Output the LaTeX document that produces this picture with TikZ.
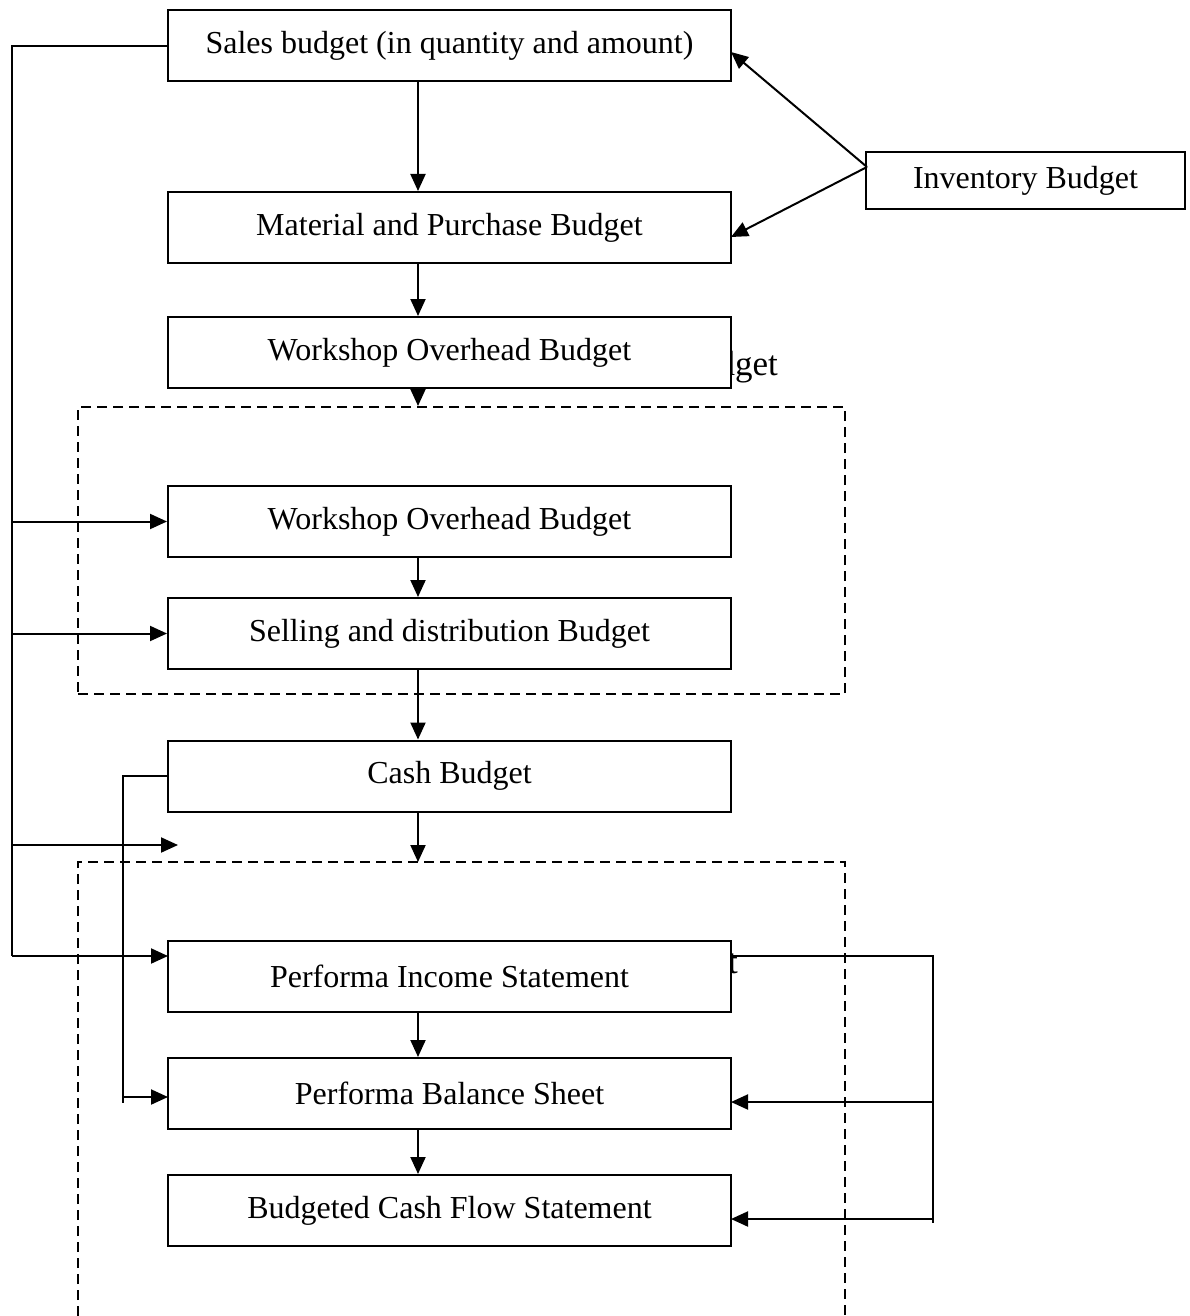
\documentclass[tikz,border=0pt]{standalone}
\usepackage{fontspec}
\setmainfont{Liberation Serif}
\usetikzlibrary{arrows.meta}
\tikzset{
  budget/.style={draw, fill=white, line width=2pt, minimum width=563pt, minimum height=71pt, inner sep=0pt, font=\fontsize{32}{37}\selectfont},
  arr/.style={line width=2pt, -{Triangle[length=17pt,width=15pt]}},
  ln/.style={line width=2pt},
  grp/.style={line width=2pt, dash pattern=on 10pt off 6pt},
  ghost/.style={inner sep=0pt, font=\fontsize{35}{40}\selectfont}
}
\begin{document}
\begin{tikzpicture}[x=1pt, y=-1pt]
\useasboundingbox (0,0) rectangle (1189,1316);

% labels partly covered by the boxes drawn over them
\node[ghost, anchor=base east] (lab) at (778,375) {Budget};
\node[ghost, anchor=base east] (stm) at (738,973) {t};

% budget boxes
\node[budget] (sales) at (449.5,45.5) {Sales budget (in quantity and amount)};
\node[budget] (mat)   at (449.5,227.5) {Material and Purchase Budget};
\node[budget] (wo1)   at (449.5,352.5) {Workshop Overhead Budget};
\node[budget] (wo2)   at (449.5,521.5) {Workshop Overhead Budget};
\node[budget] (sell)  at (449.5,633.5) {Selling and distribution Budget};
\node[budget] (cash)  at (449.5,776) {Cash Budget};
\node[budget] (pis)   at (449.5,976.5) {Performa Income Statement};
\node[budget] (pbs)   at (449.5,1093.5) {Performa Balance Sheet};
\node[budget] (cfs)   at (449.5,1210.5) {Budgeted Cash Flow Statement};
\node[budget, minimum width=319pt, minimum height=57pt] (inv) at (1025.5,180.5) {Inventory Budget};

% dashed groups
\node[grp, draw, minimum width=767pt, minimum height=287pt, inner sep=0pt] (grpA) at (461.5,550.5) {};
\coordinate (gBl) at (78,1316);
\coordinate (gBtl) at (78,862);
\coordinate (gBtr) at (845,862);
\coordinate (gBr) at (845,1316);
\draw[grp] (gBl) -- (gBtl) -- (gBtr) -- (gBr);

% main vertical flow
\coordinate (ax) at (418,0);
\draw[arr] (ax |- sales.south) -- (ax |- mat.north);
\draw[arr] (ax |- mat.south) -- (ax |- wo1.north);
\draw[arr] (ax |- wo1.south) -- (ax |- grpA.north);
\draw[arr] (ax |- wo2.south) -- (ax |- sell.north);
\draw[arr] (ax |- sell.south) -- (ax |- cash.north);
\draw[arr] (ax |- cash.south) -- (ax |- gBtl);
\draw[arr] (ax |- pis.south) -- (ax |- pbs.north);
\draw[arr] (ax |- pbs.south) -- (ax |- cfs.north);

% inventory links
\coordinate (invp) at (867,167);
\coordinate (sin) at (731,52);
\coordinate (min) at (731,237);
\draw[arr] (invp) -- (sin);
\draw[arr] (invp) -- (min);

% sales trunk on the left
\coordinate (tk) at (12,46);
\coordinate (tkb) at (12,956);
\coordinate (pisin) at (168,956);
\coordinate (free) at (178,845);
\draw[ln] (sales.west |- tk) -- (tk) -- (tkb);
\draw[arr] (tkb) -- (pisin);
\draw[arr] (tk |- wo2.west) -- (wo2.west);
\draw[arr] (tk |- sell.west) -- (sell.west);
\draw[arr] (tk |- free) -- (free);

% cash budget to balance sheet
\coordinate (ck) at (123,776);
\coordinate (ckb) at (123,1103);
\coordinate (pbsin) at (168,1097);
\draw[ln] (cash.west) -- (ck) -- (ckb);
\draw[arr] (ck |- pbsin) -- (pbsin);

% income statement to balance sheet and cash flow
\coordinate (ra) at (731,956);
\coordinate (rk) at (933,956);
\coordinate (rkb) at (933,1223);
\coordinate (pbsr) at (731,1102);
\coordinate (cfsr) at (731,1219);
\draw[ln] (ra) -- (rk) -- (rkb);
\draw[arr] (rk |- pbsr) -- (pbsr);
\draw[arr] (rk |- cfsr) -- (cfsr);
\end{tikzpicture}
\end{document}
